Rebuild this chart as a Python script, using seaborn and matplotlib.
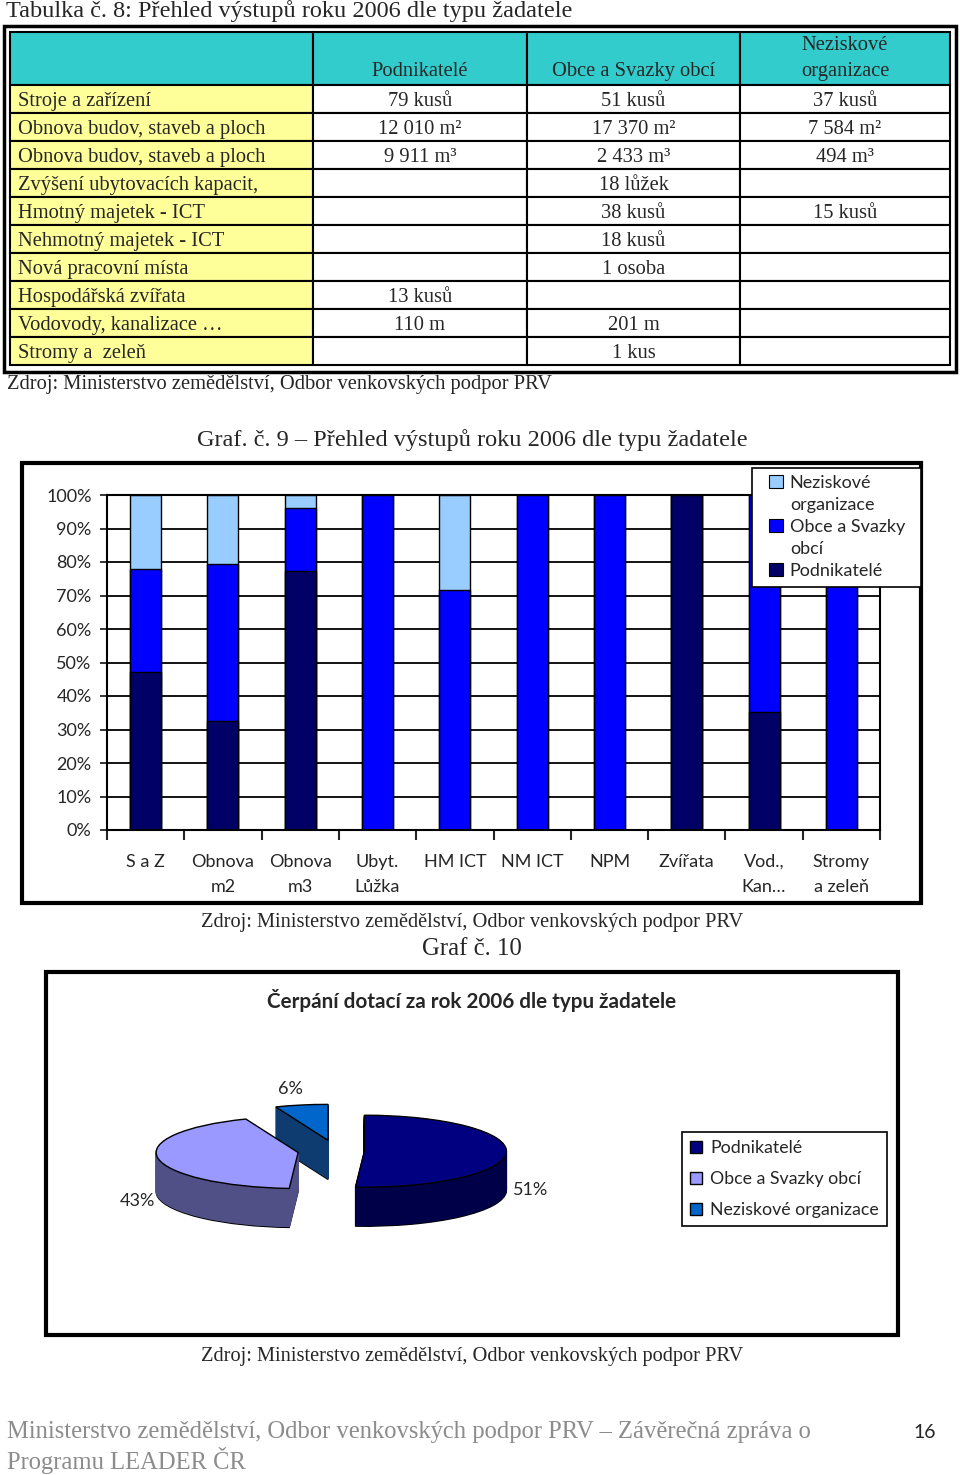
import numpy as np
import pandas as pd
import matplotlib.pyplot as plt
import seaborn as sns
from matplotlib.patches import Rectangle, Patch
from matplotlib.table import Table

W, H = 960, 1475


def fx(x):
    return x / W


def fy(y):
    return 1 - y / H


# --- tabulka 8 ---
row_labels = ["Stroje a zařízení", "Obnova budov, staveb a ploch", "Obnova budov, staveb a ploch",
              "Zvýšení ubytovacích kapacit,", "Hmotný majetek - ICT", "Nehmotný majetek - ICT",
              "Nová pracovní místa", "Hospodářská zvířata", "Vodovody, kanalizace …", "Stromy a  zeleň"]
col_heads = ["", "\nPodnikatelé", "\nObce a Svazky obcí", "Neziskové\norganizace"]
t_podnik = ["79 kusů", "12 010 m²", "9 911 m³", "", "", "", "", "13 kusů", "110 m", ""]
t_obce = ["51 kusů", "17 370 m²", "2 433 m³", "18 lůžek", "38 kusů", "18 kusů", "1 osoba", "", "201 m", "1 kus"]
t_nezisk = ["37 kusů", "7 584 m²", "494 m³", "", "15 kusů", "", "", "", "", ""]

# --- graf 9 ---
categories = ["S a Z", "Obnova\nm2", "Obnova\nm3", "Ubyt.\nLůžka", "HM ICT", "NM ICT", "NPM",
              "Zvířata", "Vod.,\nKan…", "Stromy\na zeleň"]
podnik = np.array([79, 12010, 9911, 0, 0, 0, 0, 13, 110, 0])
obce = np.array([51, 17370, 2433, 18, 38, 18, 1, 0, 201, 1])
nezisk = np.array([37, 7584, 494, 0, 15, 0, 0, 0, 0, 0])

# --- graf 10 ---
pie_labels = ["Podnikatelé", "Obce a Svazky obcí", "Neziskové organizace"]
pie_pct = [51, 43, 6]

sns.set_style("white")
plt.rcParams["font.family"] = ["Lato", "DejaVu Sans"]
SERIF = ["Liberation Serif", "DejaVu Serif"]
ZDROJ = "Zdroj: Ministerstvo zemědělství, Odbor venkovských podpor PRV"

fig = plt.figure(figsize=(9.6, 14.75), dpi=100)

# ---------------- table ----------------
fig.text(fx(6), fy(11), "Tabulka č. 8: Přehled výstupů roku 2006 dle typu žadatele",
         family=SERIF, fontsize=17.5, va="center")
ax_t = fig.add_axes([fx(10), fy(365), 940 / W, 333 / H])
ax_t.set_axis_off()
col_w = [303, 214, 213, 210]
tbl = Table(ax_t, bbox=[0, 0, 1, 1])
grid = [col_heads] + [list(r) for r in zip(row_labels, t_podnik, t_obce, t_nezisk)]
for r, row in enumerate(grid):
    for c, txt in enumerate(row):
        if r == 0:
            fc = "#33CCCC"
        elif c == 0:
            fc = "#FFFF99"
        else:
            fc = "white"
        cell = tbl.add_cell(r, c, width=col_w[c], height=53 if r == 0 else 28, text=txt,
                            loc="left" if c == 0 else "center", facecolor=fc, edgecolor="black")
        cell.PAD = 0.025
        cell.set_linewidth(1.5)
        cell.set_text_props(fontfamily=SERIF, fontsize=14.8, linespacing=1.45)
        if r > 0:
            cell.get_text().set_va("center_baseline")
tbl.auto_set_font_size(False)
ax_t.add_table(tbl)
fig.add_artist(Rectangle((fx(4), fy(372)), 952 / W, 346 / H, transform=fig.transFigure,
                         fill=False, lw=2.5, ec="black"))
fig.text(fx(7), fy(385), ZDROJ, family=SERIF, fontsize=14.8, va="center")

# ---------------- bar chart ----------------
fig.text(fx(472), fy(440), "Graf. č. 9 – Přehled výstupů roku 2006 dle typu žadatele",
         family=SERIF, fontsize=17.5, va="center", ha="center")
fig.add_artist(Rectangle((fx(22), fy(903)), 899 / W, 440 / H, transform=fig.transFigure,
                         fill=False, lw=3, ec="black"))

c_pod, c_obce, c_nez = "#000066", "#0000FF", "#99CCFF"
tot = podnik + obce + nezisk
df = pd.DataFrame({"kat": categories,
                   "pod": 100 * podnik / tot,
                   "obce": 100 * (podnik + obce) / tot,
                   "vse": 100 * (podnik + obce + nezisk) / tot})

ax = fig.add_axes([fx(107), fy(830), 773 / W, 335 / H])
for col, colr in [("vse", c_nez), ("obce", c_obce), ("pod", c_pod)]:
    sns.barplot(data=df, x="kat", y=col, color=colr, width=0.4, saturation=1,
                edgecolor="black", linewidth=1, errorbar=None, ax=ax)
ax.set_xlim(-0.5, 9.5)
ax.set_ylim(0, 100)
ax.set_xlabel("")
ax.set_ylabel("")
ax.set_yticks(np.arange(0, 101, 10))
ax.set_yticklabels([f"{v}%" for v in range(0, 101, 10)])
ax.set_xticks(range(len(categories)))
ax.set_xticklabels(categories)
ax.set_xticks(np.arange(-0.5, len(categories), 1), minor=True)
ax.yaxis.grid(True, color="black", lw=1.3)
ax.set_axisbelow(True)
ax.tick_params(axis="x", which="major", length=0, pad=17, labelsize=13)
ax.tick_params(axis="x", which="minor", length=7, width=1.5, direction="out", bottom=True)
ax.tick_params(axis="y", length=5, width=1.3, direction="out", left=True, pad=6, labelsize=13)
for lbl in ax.get_xticklabels():
    lbl.set_linespacing(1.7)
for s in ax.spines.values():
    s.set_color("black")
    s.set_linewidth(1.5)

# legend box drawn separately, entries split into lines
fig.add_artist(Rectangle((fx(752), fy(587)), 169 / W, 119 / H, transform=fig.transFigure,
                         fc="white", lw=1.2, ec="black", zorder=3))
blank = Patch(fc="none", ec="none")
bar_handles = [Patch(fc=c_nez, ec="black", lw=0.8), blank,
               Patch(fc=c_obce, ec="black", lw=0.8), blank,
               Patch(fc=c_pod, ec="black", lw=0.8)]
bar_texts = ["Neziskové", "organizace", "Obce a Svazky", "obcí", "Podnikatelé"]
fig.legend(handles=bar_handles, labels=bar_texts, loc="upper left",
           bbox_to_anchor=(fx(769), fy(475)), frameon=False, fontsize=13,
           handlelength=0.75, handleheight=0.75, handletextpad=0.4, labelspacing=0.33,
           borderpad=0, borderaxespad=0)

fig.text(fx(472), fy(922), ZDROJ, family=SERIF, fontsize=14.7, va="center", ha="center")
fig.text(fx(472), fy(949), "Graf č. 10", family=SERIF, fontsize=17.8, va="center", ha="center")

# ---------------- pie ----------------
fig.add_artist(Rectangle((fx(46), fy(1335)), 852 / W, 363 / H, transform=fig.transFigure,
                         fill=False, lw=3, ec="black"))
fig.text(fx(472), fy(1001), "Čerpání dotací za rok 2006 dle typu žadatele",
         fontsize=14.9, fontweight="bold", va="center", ha="center")

top_cols = ["#000080", "#9999FF", "#0066CC"]
side_cols = ["#000048", "#505087", "#0E3C70"]
expl = [0.2, 0.27, 0.3]
cx, cy, rx, ry = 336, 1151, 142, 36
ax_p = fig.add_axes([fx(100), fy(1245), 480 / W, 165 / H])
depth = 39 / ry
for i, t in enumerate(np.linspace(depth, 0.02, 40)):
    wedges, _ = ax_p.pie(pie_pct, colors=side_cols, startangle=90, counterclock=False,
                         explode=expl, center=(0, -t))
    for w in wedges:
        w.set_linewidth(1)
        w.set_edgecolor("black" if i == 0 else w.get_facecolor())
top_wedges, _ = ax_p.pie(pie_pct, colors=top_cols, startangle=90, counterclock=False,
                         explode=expl, center=(0, 0),
                         wedgeprops=dict(edgecolor="black", linewidth=1))
ax_p.set_aspect("auto")
ax_p.set_xlim((100 - cx) / rx, (580 - cx) / rx)
ax_p.set_ylim((cy - 1245) / ry, (cy - 1080) / ry)

lab_pos = [(531, 1190), (137, 1201), (290, 1089)]
for v, (px, py) in zip(pie_pct, lab_pos):
    ax_p.text((px - cx) / rx, (cy - py) / ry, f"{v}%", fontsize=13, ha="center", va="center",
              clip_on=False)

leg2 = fig.legend(handles=top_wedges, labels=pie_labels, loc="upper left",
                  bbox_to_anchor=(fx(682), fy(1132)), frameon=True, fancybox=False,
                  edgecolor="black", framealpha=1, fontsize=12.8, handlelength=0.7,
                  handleheight=0.7, handletextpad=0.45, labelspacing=0.85, borderpad=0.45,
                  borderaxespad=0)
leg2.get_frame().set_linewidth(1.2)

fig.text(fx(472), fy(1356), ZDROJ, family=SERIF, fontsize=14.7, va="center", ha="center")

# ---------------- footer ----------------
fig.text(fx(7), fy(1432), "Ministerstvo zemědělství, Odbor venkovských podpor PRV – Závěrečná zpráva o",
         family=SERIF, fontsize=17.7, va="center", color="#8C8C8C")
fig.text(fx(7), fy(1460), "Programu LEADER ČR", family=SERIF, fontsize=17.7, va="center", color="#8C8C8C")
fig.text(fx(925), fy(1433), "16", fontsize=14, va="center", ha="center")

fig.savefig("out.png", dpi=100)
